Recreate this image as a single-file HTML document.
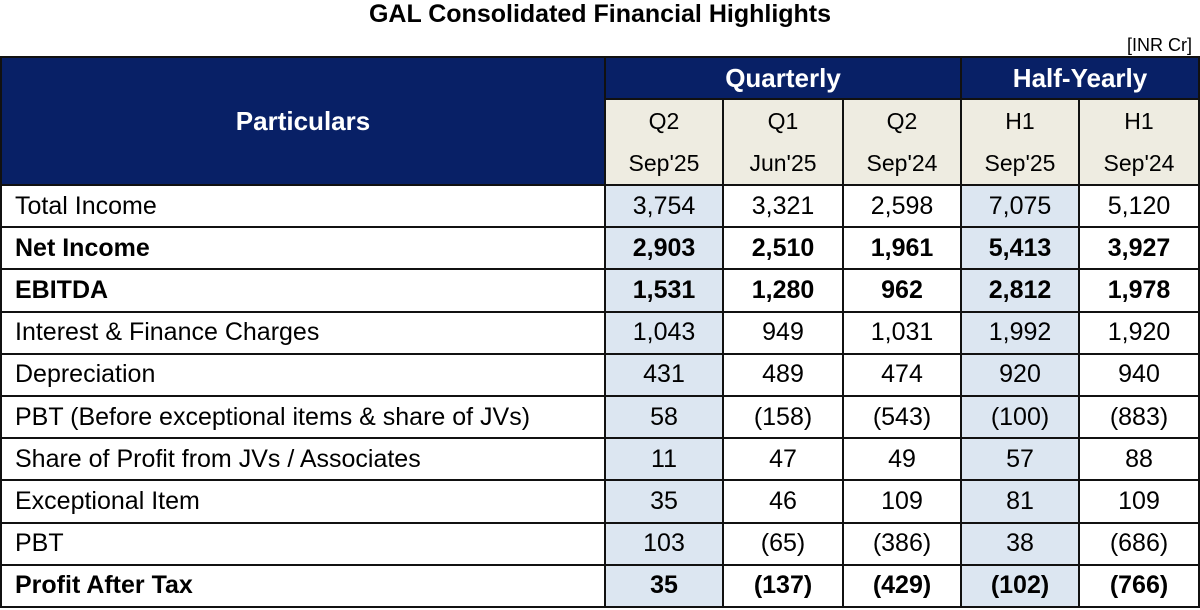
<!DOCTYPE html>
<html><head><style>
body{margin:0;width:1200px;height:610px;background:#fff;font-family:"Liberation Sans",sans-serif;position:relative;overflow:hidden}
.t{position:absolute;left:0;right:0;top:0;text-align:center;font-weight:bold;font-size:25px;line-height:28px}
.u{position:absolute;right:8px;top:34px;font-size:18px;line-height:22px}
table{position:absolute;left:0;top:56px;border-collapse:collapse;table-layout:fixed}
td{border:2px solid #111;padding:0;font-size:25px;text-align:center;height:40.2px;white-space:nowrap}
td.p{text-align:left;padding-left:13px}
.h{background:#082066;color:#fff;font-weight:bold;font-size:26px;height:40px}
.b{background:#eeece1;font-size:23px;height:42px;border-top:none;border-bottom:none}
.b1{border-top:2px solid #111}
.b2{border-bottom:2px solid #111}
.s{background:#dce6f1}
.B td{font-weight:bold}
</style></head><body>
<div class="t">GAL Consolidated Financial Highlights</div>
<div class="u">[INR Cr]</div>
<table>
<colgroup><col style="width:604px"><col style="width:118px"><col style="width:120px"><col style="width:118px"><col style="width:118px"><col style="width:120px"></colgroup>
<tr><td class="h" rowspan="3">Particulars</td><td class="h" colspan="3">Quarterly</td><td class="h" colspan="2">Half-Yearly</td></tr>
<tr><td class="b b1">Q2</td><td class="b b1">Q1</td><td class="b b1">Q2</td><td class="b b1">H1</td><td class="b b1">H1</td></tr>
<tr><td class="b b2">Sep'25</td><td class="b b2">Jun'25</td><td class="b b2">Sep'24</td><td class="b b2">Sep'25</td><td class="b b2">Sep'24</td></tr>
<tr><td class="p">Total Income</td><td class="s">3,754</td><td>3,321</td><td>2,598</td><td class="s">7,075</td><td>5,120</td></tr>
<tr class="B"><td class="p">Net Income</td><td class="s">2,903</td><td>2,510</td><td>1,961</td><td class="s">5,413</td><td>3,927</td></tr>
<tr class="B"><td class="p">EBITDA</td><td class="s">1,531</td><td>1,280</td><td>962</td><td class="s">2,812</td><td>1,978</td></tr>
<tr><td class="p">Interest &amp; Finance Charges</td><td class="s">1,043</td><td>949</td><td>1,031</td><td class="s">1,992</td><td>1,920</td></tr>
<tr><td class="p">Depreciation</td><td class="s">431</td><td>489</td><td>474</td><td class="s">920</td><td>940</td></tr>
<tr><td class="p">PBT (Before exceptional items &amp; share of JVs)</td><td class="s">58</td><td>(158)</td><td>(543)</td><td class="s">(100)</td><td>(883)</td></tr>
<tr><td class="p">Share of Profit from JVs / Associates</td><td class="s">11</td><td>47</td><td>49</td><td class="s">57</td><td>88</td></tr>
<tr><td class="p">Exceptional Item</td><td class="s">35</td><td>46</td><td>109</td><td class="s">81</td><td>109</td></tr>
<tr><td class="p">PBT</td><td class="s">103</td><td>(65)</td><td>(386)</td><td class="s">38</td><td>(686)</td></tr>
<tr class="B"><td class="p">Profit After Tax</td><td class="s">35</td><td>(137)</td><td>(429)</td><td class="s">(102)</td><td>(766)</td></tr>
</table>
</body></html>
